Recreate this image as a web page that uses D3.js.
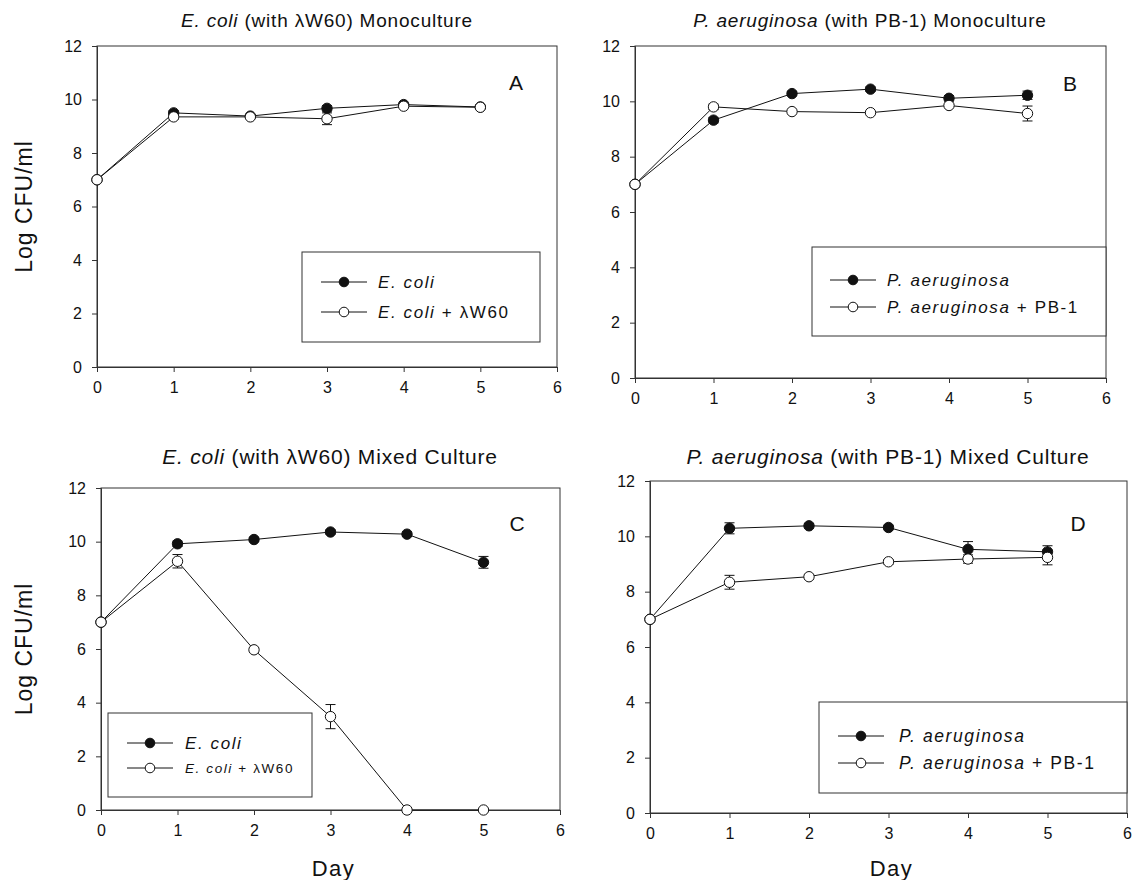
<!DOCTYPE html>
<html>
<head>
<meta charset="utf-8">
<script src="https://cdn.jsdelivr.net/npm/d3@7"></script>
<style>
  body { margin: 0; background: #fff; }
  text { font-family: "Liberation Sans", Arial, sans-serif; fill: #111; }
</style>
</head>
<body>
<script>
// Sampling days and axis ticks
var days = [0, 1, 2, 3, 4, 5];
var xTicks = [0, 1, 2, 3, 4, 5, 6];
var yTicks = [0, 2, 4, 6, 8, 10, 12];

// Panel A - E. coli monoculture
var ecoliMono = [7.0, 9.50, 9.38, 9.67, 9.81, 9.72];
var ecoliMonoErr = [0, 0.08, 0.05, 0.10, 0.05, 0.05];
var ecoliPhageMono = [7.0, 9.35, 9.35, 9.28, 9.75, 9.71];
var ecoliPhageMonoErr = [0, 0.08, 0.05, 0.22, 0.05, 0.05];

// Panel B - P. aeruginosa monoculture
var paerMono = [7.0, 9.32, 10.28, 10.44, 10.11, 10.22];
var paerMonoErr = [0, 0.10, 0.08, 0.08, 0.10, 0.15];
var paerPhageMono = [7.0, 9.80, 9.63, 9.59, 9.85, 9.56];
var paerPhageMonoErr = [0, 0.10, 0.05, 0.05, 0.05, 0.27];

// Panel C - E. coli in mixed culture
var ecoliMixed = [7.0, 9.92, 10.08, 10.36, 10.28, 9.23];
var ecoliMixedErr = [0, 0.10, 0.08, 0.08, 0.08, 0.22];
var ecoliPhageMixed = [7.0, 9.27, 5.97, 3.48, 0, 0];
var ecoliPhageMixedErr = [0, 0.25, 0.08, 0.45, 0, 0];

// Panel D - P. aeruginosa in mixed culture
var paerMixed = [7.0, 10.29, 10.38, 10.32, 9.53, 9.44];
var paerMixedErr = [0, 0.20, 0.08, 0.08, 0.28, 0.22];
var paerPhageMixed = [7.0, 8.34, 8.54, 9.08, 9.18, 9.24];
var paerPhageMixedErr = [0, 0.25, 0.08, 0.08, 0.15, 0.27];

var svg = d3.select("body").append("svg")
  .attr("width", 1134)
  .attr("height", 880);

// Panel layout, one entry per sub chart
var panels = [
  { letter: "A", box: { l: 97, r: 557, t: 46, b: 367 },
    title: ["E. coli", " (with \u03bbW60) Monoculture"], titleX: 327, titleY: 27, titleSize: 19,
    letterX: 516, letterY: 90,
    filled: ecoliMono, filledErr: ecoliMonoErr, open: ecoliPhageMono, openErr: ecoliPhageMonoErr,
    legend: { x: 302, y: 252, w: 238, h: 90, row1: 30, row2: 60, lx: 19, tx: 76, size: 17 },
    labels: [["E. coli", ""], ["E. coli", "  + \u03bbW60"]], label2Size: 17,
    yLabel: true, xLabel: false },
  { letter: "B", box: { l: 635, r: 1106, t: 46, b: 378 },
    title: ["P. aeruginosa", " (with PB-1) Monoculture"], titleX: 870, titleY: 27, titleSize: 19,
    letterX: 1070, letterY: 91,
    filled: paerMono, filledErr: paerMonoErr, open: paerPhageMono, openErr: paerPhageMonoErr,
    legend: { x: 812, y: 247, w: 294, h: 89, row1: 33, row2: 60, lx: 18, tx: 75, size: 17 },
    labels: [["P. aeruginosa", ""], ["P. aeruginosa", " + PB-1"]], label2Size: 17,
    yLabel: false, xLabel: false },
  { letter: "C", box: { l: 101, r: 560, t: 488, b: 810 },
    title: ["E. coli", " (with \u03bbW60) Mixed Culture"], titleX: 330, titleY: 464, titleSize: 21,
    letterX: 517, letterY: 531,
    filled: ecoliMixed, filledErr: ecoliMixedErr, open: ecoliPhageMixed, openErr: ecoliPhageMixedErr,
    legend: { x: 108, y: 713, w: 204, h: 84, row1: 30, row2: 55, lx: 19, tx: 77, size: 17 },
    labels: [["E. coli", ""], ["E. coli", " + \u03bbW60"]], label2Size: 13.5,
    yLabel: true, xLabel: true },
  { letter: "D", box: { l: 650, r: 1127, t: 481, b: 813 },
    title: ["P. aeruginosa", " (with PB-1) Mixed Culture"], titleX: 888, titleY: 464, titleSize: 21,
    letterX: 1078, letterY: 531,
    filled: paerMixed, filledErr: paerMixedErr, open: paerPhageMixed, openErr: paerPhageMixedErr,
    legend: { x: 819, y: 702, w: 308, h: 91, row1: 34, row2: 61, lx: 19, tx: 80, size: 17.5 },
    labels: [["P. aeruginosa", ""], ["P. aeruginosa", " + PB-1"]], label2Size: 17.5,
    yLabel: false, xLabel: true }
];

// Draws a text with an italic leading part
function addMixedText(g, x, y, parts, size, anchor) {
  var t = g.append("text")
    .attr("x", x)
    .attr("y", y)
    .attr("font-size", size)
    .attr("text-anchor", anchor || "start");
  t.append("tspan").attr("font-style", "italic").text(parts[0]);
  t.append("tspan").text(parts[1]);
  return t;
}

function drawSeries(g, x, y, values, errs, fill) {
  var pts = days.map(function (d, i) { return { day: d, v: values[i], e: errs[i] }; });
  // error bars behind the markers
  var eb = g.append("g").attr("stroke", "#111").attr("stroke-width", 1);
  pts.filter(function (p) { return p.e > 0; }).forEach(function (p) {
    var cx = x(p.day);
    eb.append("line").attr("x1", cx).attr("x2", cx).attr("y1", y(p.v - p.e)).attr("y2", y(p.v + p.e));
    eb.append("line").attr("x1", cx - 5).attr("x2", cx + 5).attr("y1", y(p.v - p.e)).attr("y2", y(p.v - p.e));
    eb.append("line").attr("x1", cx - 5).attr("x2", cx + 5).attr("y1", y(p.v + p.e)).attr("y2", y(p.v + p.e));
  });
  var line = d3.line().x(function (p) { return x(p.day); }).y(function (p) { return y(p.v); });
  g.append("path")
    .datum(pts)
    .attr("d", line)
    .attr("fill", "none")
    .attr("stroke", "#111")
    .attr("stroke-width", 1);
  g.selectAll(null)
    .data(pts)
    .enter().append("circle")
    .attr("cx", function (p) { return x(p.day); })
    .attr("cy", function (p) { return y(p.v); })
    .attr("r", 5.2)
    .attr("fill", fill)
    .attr("stroke", "#111")
    .attr("stroke-width", 1);
}

function drawPanel(p) {
  var g = svg.append("g");
  var b = p.box;
  var x = d3.scaleLinear().domain([0, 6]).range([b.l, b.r]);
  var y = d3.scaleLinear().domain([0, 12]).range([b.b, b.t]);

  // frame (top and right sides without ticks)
  g.append("rect")
    .attr("x", b.l).attr("y", b.t)
    .attr("width", b.r - b.l).attr("height", b.b - b.t)
    .attr("fill", "none").attr("stroke", "#333").attr("stroke-width", 1);

  var xAxis = g.append("g")
    .attr("transform", "translate(0," + b.b + ")")
    .call(d3.axisBottom(x).tickValues(xTicks).tickSize(5).tickPadding(10).tickFormat(d3.format("d")));
  var yAxis = g.append("g")
    .attr("transform", "translate(" + b.l + ",0)")
    .call(d3.axisLeft(y).tickValues(yTicks).tickSize(5).tickPadding(10).tickFormat(d3.format("d")));
  [xAxis, yAxis].forEach(function (a) {
    a.select(".domain").attr("stroke", "#333");
    a.selectAll(".tick line").attr("stroke", "#333");
    a.selectAll(".tick text").attr("font-size", 16).attr("font-family", "Liberation Sans, Arial, sans-serif").attr("fill", "#111");
  });

  addMixedText(g, p.titleX, p.titleY, p.title, p.titleSize, "middle").attr("letter-spacing", 0.8);

  g.append("text")
    .attr("x", p.letterX).attr("y", p.letterY)
    .attr("font-size", 21)
    .attr("text-anchor", "middle")
    .text(p.letter);

  // legend
  var L = p.legend;
  var lg = g.append("g").attr("transform", "translate(" + L.x + "," + L.y + ")");
  lg.append("rect").attr("width", L.w).attr("height", L.h)
    .attr("fill", "#fff").attr("stroke", "#333").attr("stroke-width", 1);
  [[L.row1, "#111", p.labels[0], L.size], [L.row2, "#fff", p.labels[1], p.label2Size]].forEach(function (row) {
    lg.append("line").attr("x1", L.lx).attr("x2", L.lx + 46).attr("y1", row[0]).attr("y2", row[0])
      .attr("stroke", "#111").attr("stroke-width", 1);
    lg.append("circle").attr("cx", L.lx + 23).attr("cy", row[0]).attr("r", 4.8)
      .attr("fill", row[1]).attr("stroke", "#111");
    addMixedText(lg, L.tx, row[0] + row[3] * 0.36, row[2], row[3]).attr("letter-spacing", 1.6);
  });

  drawSeries(g, x, y, p.filled, p.filledErr, "#111");
  drawSeries(g, x, y, p.open, p.openErr, "#fff");

  if (p.yLabel) {
    g.append("text")
      .attr("transform", "translate(32," + ((b.t + b.b) / 2) + ") rotate(-90)")
      .attr("text-anchor", "middle")
      .attr("font-size", 23)
      .attr("letter-spacing", 1)
      .text("Log CFU/ml");
  }
  if (p.xLabel) {
    g.append("text")
      .attr("x", (b.l + b.r) / 2 + 3).attr("y", 876)
      .attr("text-anchor", "middle")
      .attr("font-size", 22)
      .attr("letter-spacing", 1.5)
      .text("Day");
  }
}

panels.forEach(drawPanel);
</script>
</body>
</html>
